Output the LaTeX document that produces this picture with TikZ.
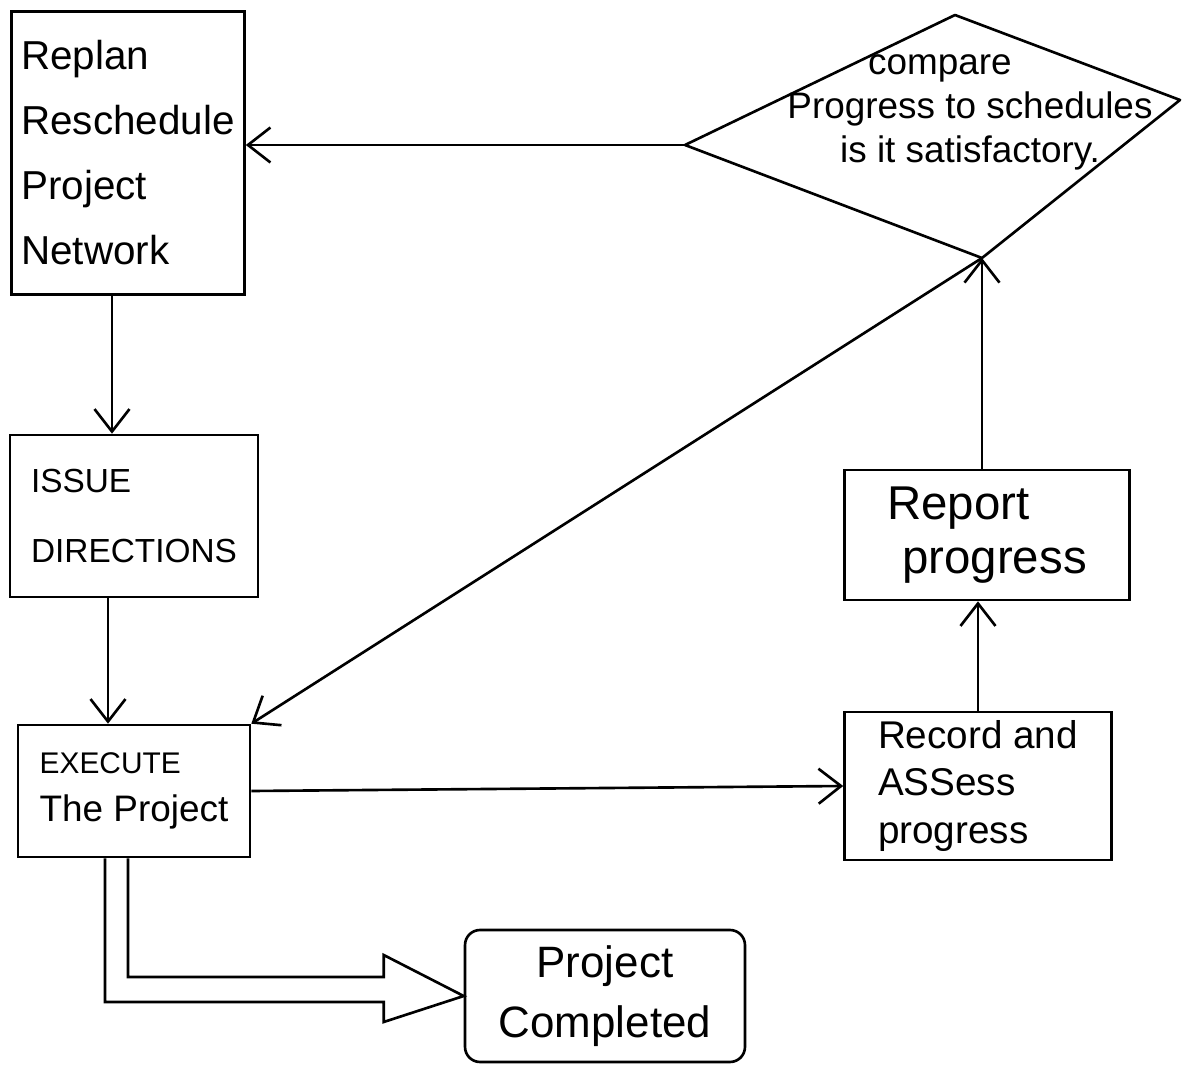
\documentclass[tikz,border=0pt]{standalone}
\usepackage{fontspec}
\setmainfont{Liberation Sans}
\usetikzlibrary{arrows.meta,calc}
\begin{document}
\begin{tikzpicture}[x=0.02cm,y=-0.02cm,
  box/.style={draw, line width=1.5pt, align=left, inner sep=0pt},
  flow/.style={line width=1.5pt, -{Straight Barb[length=4.5mm,width=7mm,line width=1.5pt]}},
  hollow/.style={line width=1.5pt, line join=miter}]
\useasboundingbox (0,0) rectangle (1191,1068);

% boxes
\node[box, minimum width=4.66cm, minimum height=5.66cm,
      font=\fontsize{23}{37}\selectfont] (replan) at (128,153)
  {Replan\\Reschedule\\Project\\Network};
\node[box, minimum width=4.96cm, minimum height=3.24cm,
      font=\fontsize{19}{40}\selectfont] (issue) at (134,516)
  {ISSUE\\DIRECTIONS};
\node[box, minimum width=4.64cm, minimum height=2.64cm,
      font=\fontsize{21}{27}\selectfont] (execute) at (134,791)
  {{\fontsize{17}{27}\selectfont EXECUTE}\\The Project};
\node[box, minimum width=5.34cm, minimum height=2.96cm,
      font=\fontsize{22}{27}\selectfont] (record) at (978,786)
  {Record and\\ASSess\\progress};
\node[box, minimum width=5.7cm, minimum height=2.6cm,
      font=\fontsize{27}{31}\selectfont] (report) at (987,535)
  {Report\\\hspace{0.3cm}progress};
\node[box, rounded corners=0.3cm, align=center, minimum width=5.6cm, minimum height=2.64cm,
      font=\fontsize{25}{34}\selectfont] (pc) at (605,996)
  {Project\\Completed};

% decision
\coordinate (dL) at (685,145);
\coordinate (dT) at (955,15);
\coordinate (dR) at (1180,100);
\coordinate (dB) at (982,258);
\draw[line width=1.5pt, line join=round] (dL) -- (dT) -- (dR) -- (dB) -- cycle;
\node[align=center, inner sep=0pt, font=\fontsize{21}{25}\selectfont] (cmp) at (970,112)
  {\kern-1.2cm compare\\Progress to schedules\\is it satisfactory.};

% connectors
\draw[flow] (dL) -- (dL -| replan.east);
\draw[flow] ($(replan.south)+(-16,0)$) -- ($(replan.south |- issue.north)+(-16,0)$);
\draw[flow] ($(issue.south)+(-26,0)$) -- ($(issue.south |- execute.north)+(-26,0)$);
\draw[flow] (execute.east) -- (record.west);
\draw[flow] (record.north) -- (record.north |- report.south);
\draw[flow] (dB |- report.north) -- (dB);
\draw[flow] (dB) -- (execute.north east);

% hollow arrow to completion
\draw[hollow] ($(execute.south)+(-6,0)$) |- ($(pc.west)+(-80,-19)$)
  -- ($(pc.west)+(-80,-41)$) -- (pc.west) -- ($(pc.west)+(-80,26)$)
  -- ($(pc.west)+(-80,6)$) -| ($(execute.south)+(-29,0)$);
\end{tikzpicture}
\end{document}
